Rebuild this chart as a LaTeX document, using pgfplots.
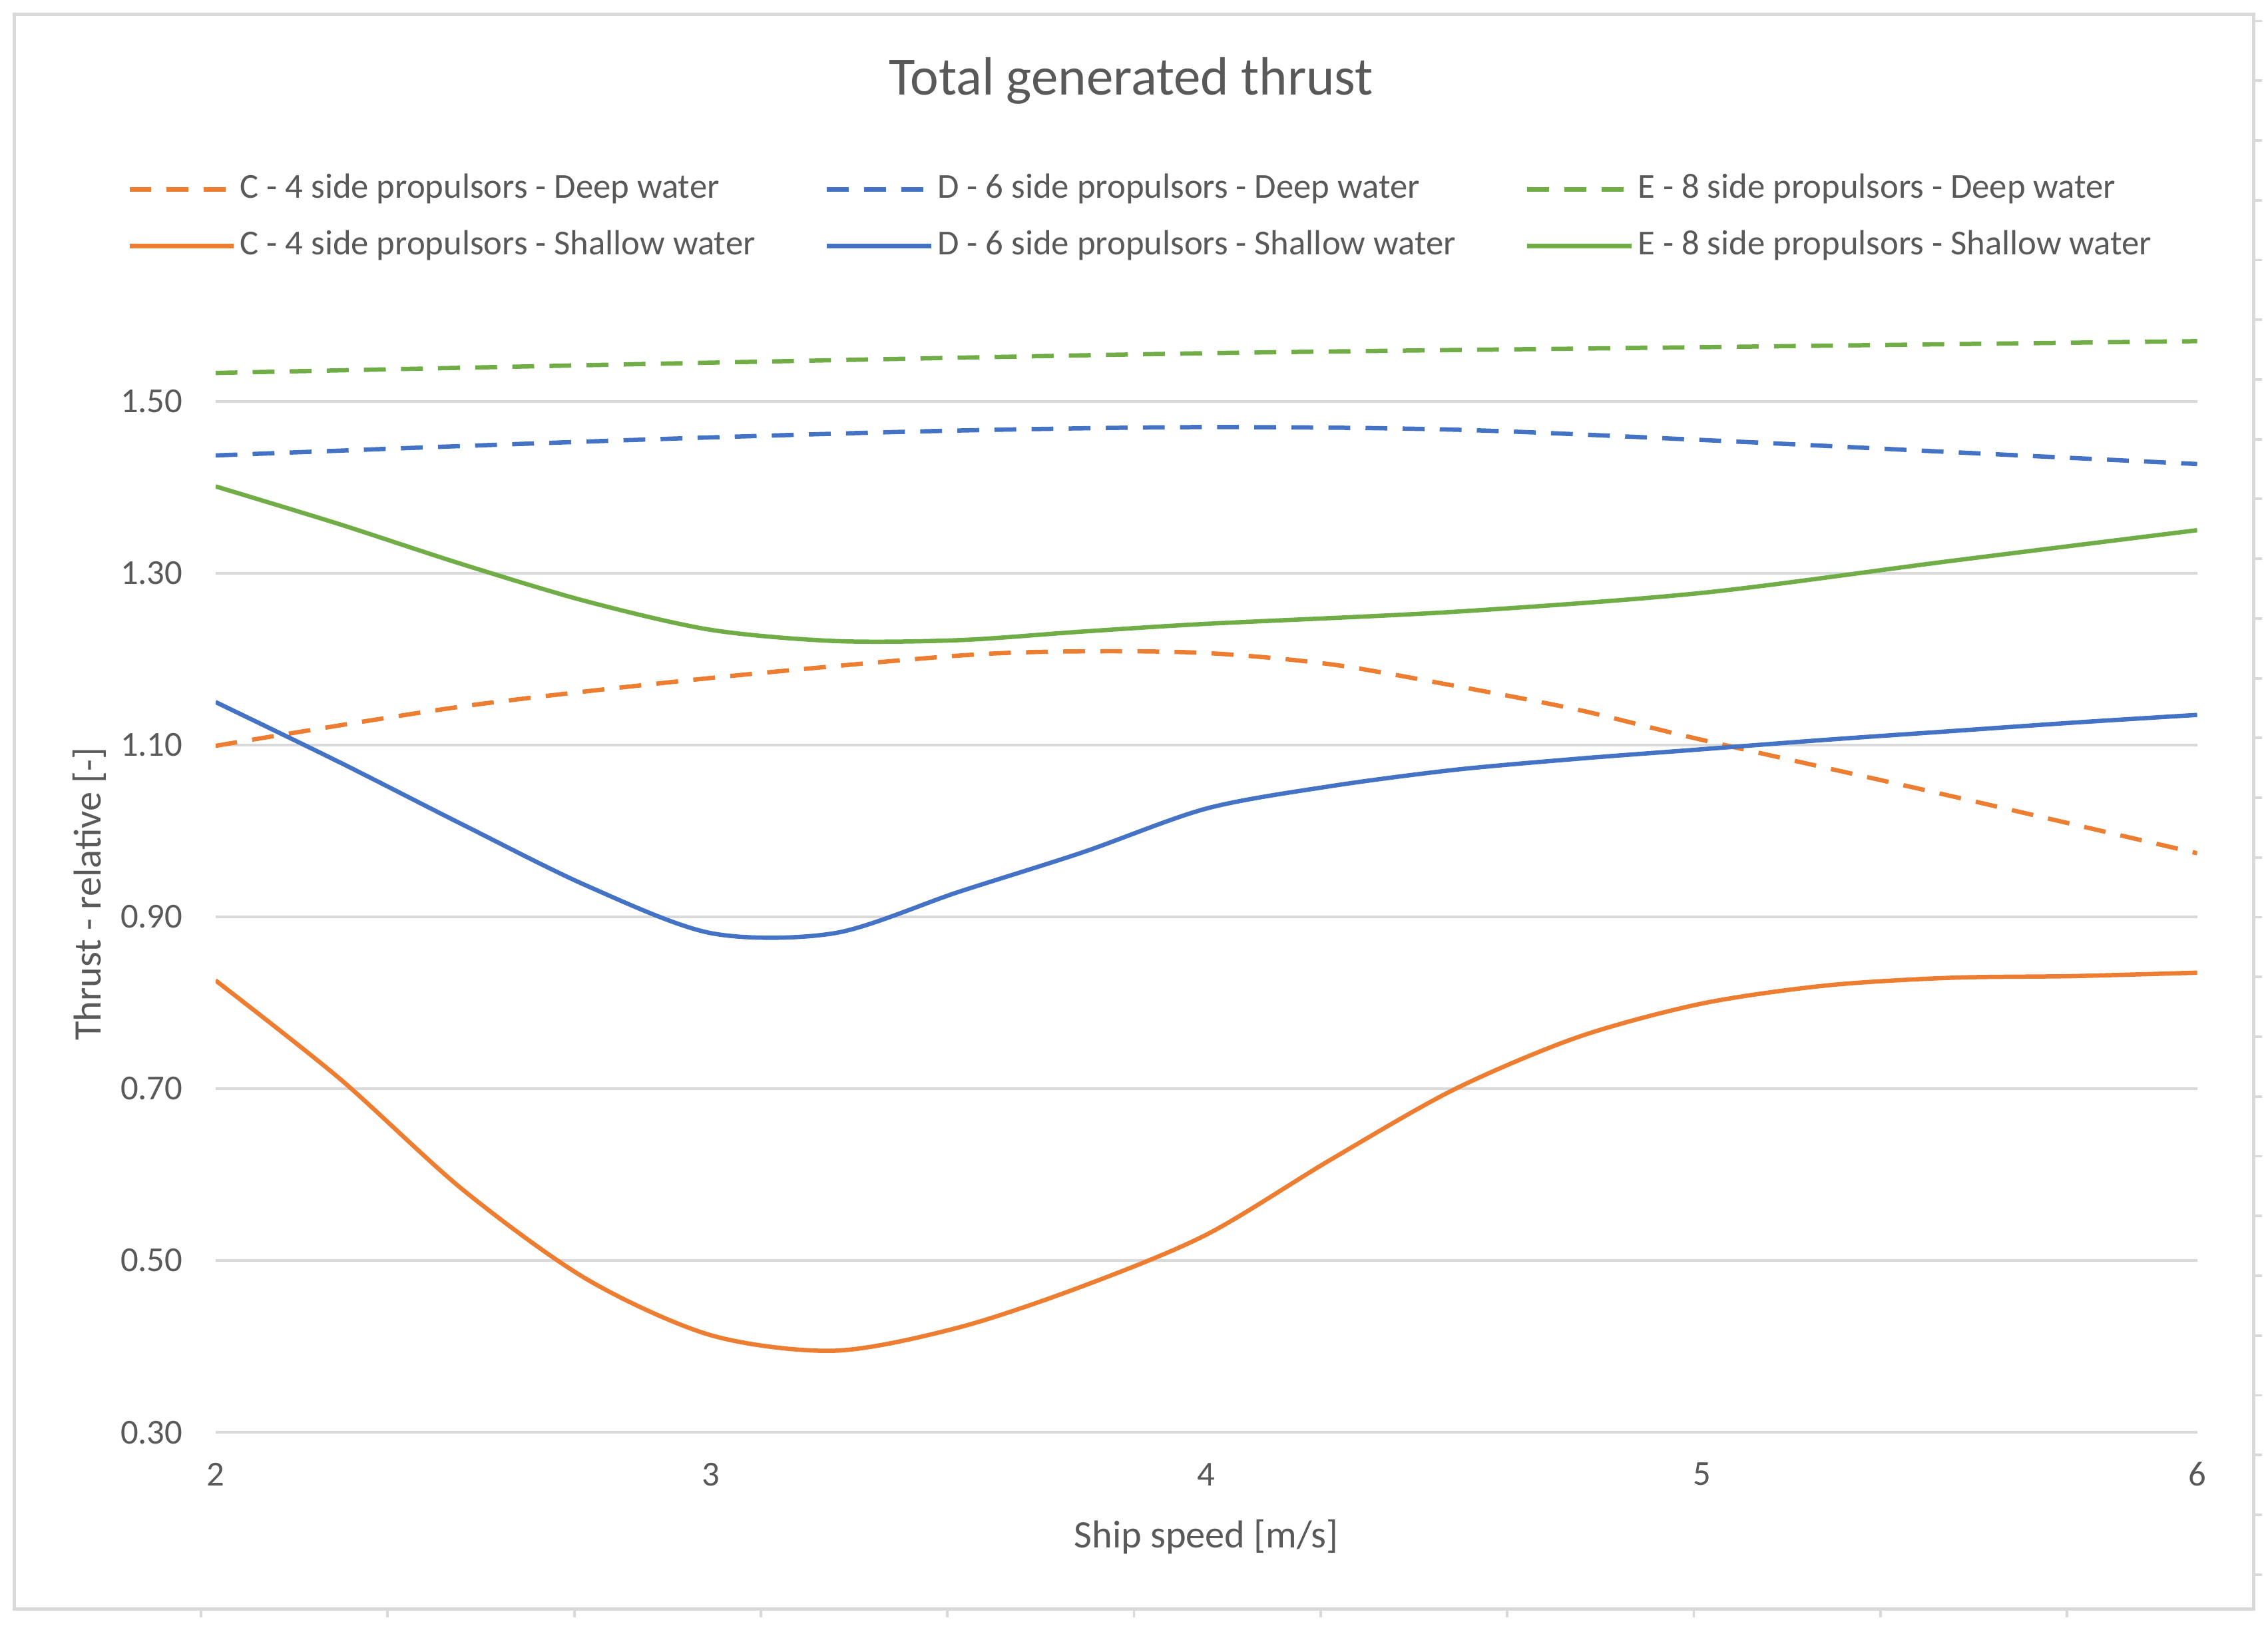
\documentclass[border=0pt]{standalone}
\usepackage{fontspec}
\setmainfont{Carlito}
\usepackage{pgfplots}
\pgfplotsset{compat=1.18}
\definecolor{cOrange}{HTML}{ED7D31}
\definecolor{cBlue}{HTML}{4472C4}
\definecolor{cGreen}{HTML}{70AD47}
\definecolor{textgray}{HTML}{595959}
\definecolor{gridgray}{HTML}{D9D9D9}

\begin{document}
\begin{tikzpicture}
\useasboundingbox (0,0) rectangle (15.68cm,11.25cm);
% chart frame
\draw[gridgray, line width=0.6pt] (0.10cm,0.13cm) rectangle (15.58cm,11.15cm);
\foreach \x in {1.39,2.68,3.97,5.26,6.55,7.84,9.13,10.42,11.71,13.00,14.29}
  \draw[gridgray, line width=0.5pt] (\x cm,0.13cm) -- (\x cm,0.07cm);
\foreach \k in {0,...,26}
  \draw[gridgray, line width=0.5pt] (15.58cm,{(11.105-0.413*\k)*1cm}) -- ++(0.06cm,0);

\begin{axis}[
  at={(1.49cm,1.35cm)}, anchor=south west,
  scale only axis, width=13.7cm, height=7.72cm,
  xmin=2, xmax=6, ymin=0.3, ymax=1.6,
  xtick={2,3,4,5,6},
  ytick={0.3,0.5,0.7,0.9,1.1,1.3,1.5},
  axis line style={draw=none}, major tick length=0pt,
  ymajorgrids, grid style={gridgray, line width=0.55pt},
  tick label style={font=\fontsize{6.9}{8}\selectfont, text=textgray},
  /pgf/number format/assume math mode=true,
  y tick label style={/pgf/number format/fixed, /pgf/number format/fixed zerofill, /pgf/number format/precision=2},
  xticklabel style={anchor=center, yshift=-0.29cm},
  yticklabel style={anchor=east, inner sep=0pt, xshift=-0.22cm},
  every axis title shift=0pt,
  title={Total generated thrust},
  title style={at={(0.462,1.2098)}, anchor=center, font=\fontsize{10.6}{12.7}\selectfont, text=textgray},
  xlabel={Ship speed [m/s]},
  xlabel style={at={(0.5,-0.0933)}, anchor=center, font=\fontsize{7.65}{9}\selectfont, text=textgray},
  ylabel={Thrust - relative [-]},
  ylabel style={at={(-0.0635,0.482)}, anchor=center, font=\fontsize{7.65}{9}\selectfont, text=textgray},
  legend columns=3,
  legend cell align=left,
  legend image code/.code={\draw[#1] (0cm,0cm) -- (0.72cm,0cm);},
  legend style={draw=none, fill=none, at={(-0.0445,1.131)}, anchor=north west,
    inner sep=0pt, outer sep=0pt, row sep=0.11cm,
    font=\fontsize{6.9}{8}\selectfont, text=textgray,
    nodes={inner sep=0.03cm},
    /tikz/every even column/.append style={column sep=0.45cm}},
  every axis plot/.append style={line width=0.85pt, smooth},
]
% C - 4 side propulsors - Deep water
\addplot[cOrange, dash pattern=on 4.3pt off 3pt] coordinates {
  (2,1.099) (2.5,1.145) (3,1.178) (3.5,1.204) (3.75,1.209) (4,1.207)
  (4.25,1.194) (4.5,1.169) (4.75,1.141) (5,1.106) (5.5,1.041) (6,0.974)
};
\addlegendentry{C - 4 side propulsors - Deep water}
% D - 6 side propulsors - Deep water
\addplot[cBlue, dash pattern=on 4.3pt off 3pt] coordinates {
  (2,1.437) (2.5,1.448) (3,1.458) (3.5,1.466) (4,1.470)
  (4.5,1.467) (5,1.455) (5.5,1.441) (6,1.427)
};
\addlegendentry{D - 6 side propulsors - Deep water}
% E - 8 side propulsors - Deep water
\addplot[cGreen, dash pattern=on 4.3pt off 3pt] coordinates {
  (2,1.533) (3,1.545) (4,1.556) (5,1.563) (6,1.570)
};
\addlegendentry{E - 8 side propulsors - Deep water}
% C - 4 side propulsors - Shallow water
\addplot[cOrange] coordinates {
  (2,0.826) (2.25,0.712) (2.5,0.582) (2.75,0.478) (3,0.413) (3.25,0.395)
  (3.5,0.422) (3.75,0.470) (4,0.530) (4.25,0.617) (4.5,0.699) (4.75,0.760)
  (5,0.799) (5.25,0.820) (5.5,0.829) (5.75,0.831) (6,0.835)
};
\addlegendentry{C - 4 side propulsors - Shallow water}
% D - 6 side propulsors - Shallow water
\addplot[cBlue] coordinates {
  (2,1.150) (2.25,1.080) (2.5,1.007) (2.75,0.936) (3,0.881) (3.25,0.881)
  (3.5,0.929) (3.75,0.975) (4,1.026) (4.25,1.052) (4.5,1.071) (4.75,1.084)
  (5,1.095) (5.25,1.106) (5.5,1.116) (5.75,1.126) (6,1.135)
};
\addlegendentry{D - 6 side propulsors - Shallow water}
% E - 8 side propulsors - Shallow water
\addplot[cGreen] coordinates {
  (2,1.401) (2.25,1.357) (2.5,1.310) (2.75,1.267) (3,1.234) (3.25,1.221)
  (3.5,1.222) (3.75,1.232) (4,1.241) (4.5,1.255) (5,1.277) (5.5,1.314) (6,1.350)
};
\addlegendentry{E - 8 side propulsors - Shallow water}
\end{axis}
\end{tikzpicture}
\end{document}
